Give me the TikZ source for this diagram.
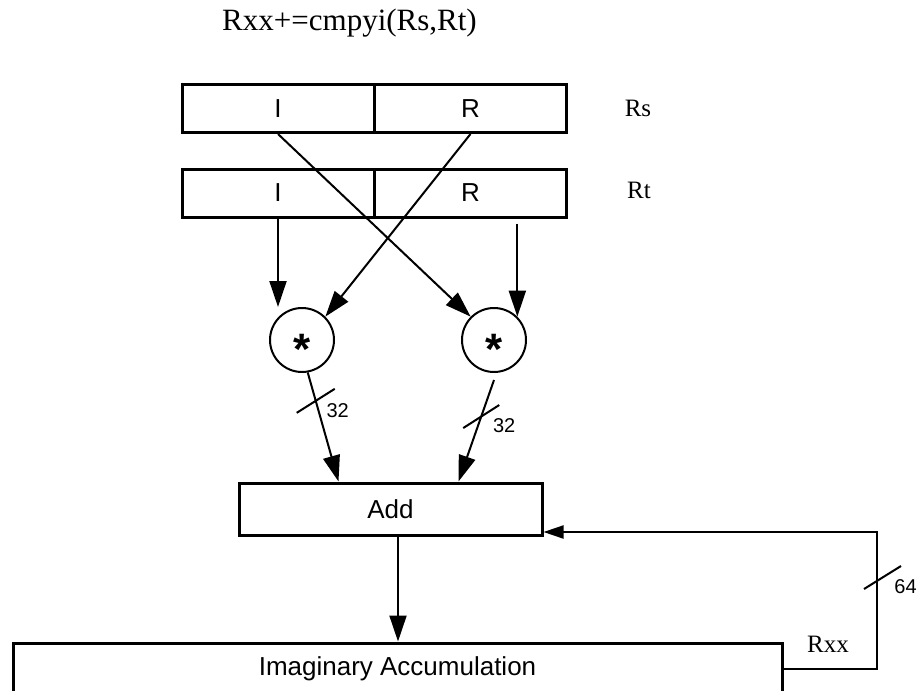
\documentclass[tikz,border=0pt]{standalone}
\usepackage{fontspec}
\setmainfont{Liberation Serif}
\setsansfont{Liberation Sans}
\usetikzlibrary{arrows.meta,calc}
\tikzset{
  reg/.style={draw,line width=1.5pt,minimum width=96pt,minimum height=24pt,
    inner sep=0pt,font=\sffamily\fontsize{13}{13}\selectfont},
  unit/.style={draw,line width=1.5pt,minimum height=26pt,inner sep=0pt,
    font=\sffamily\fontsize{13}{13}\selectfont},
  mult/.style={draw,circle,line width=1pt,minimum size=32pt,inner sep=0pt},
  mulsign/.style={inner sep=0pt,yshift=-4.7pt,font=\sffamily\bfseries\fontsize{22}{22}\selectfont},
  reglabel/.style={font=\fontsize{12.5}{12.5}\selectfont},
  wire/.style={line width=1pt,-{Triangle[length=13pt,width=8.5pt]}},
  backwire/.style={line width=1pt,-{Triangle[length=10pt,width=6.5pt]}},
  busmark/.style={line width=1pt},
  buswidth/.style={font=\sffamily\fontsize{10}{10}\selectfont}
}
\begin{document}
\begin{tikzpicture}[x=0.5pt,y=-0.5pt]
  \useasboundingbox (0,0) rectangle (919,690);
  \clip (0,0) rectangle (919,690);
  \node[font=\fontsize{15.5}{15.5}\selectfont,anchor=base] (title) at (349.5,31) {Rxx+=cmpyi(Rs,Rt)};

  % Rs
  \node[reg] (rsI) at (278,108.5) {I};
  \node[reg] (rsR) at (470.5,108.5) {R};
  \node[reglabel] (rsLbl) at (638,108) {Rs};
  % Rt
  \node[reg] (rtI) at (278,193) {I};
  \node[reg] (rtR) at (470.5,193) {R};
  \node[reglabel] (rtLbl) at (639,190) {Rt};

  % multipliers
  \node[mult] (mulL) at (302,340) {};
  \node[mult] (mulR) at (494,340) {};
  \node[mulsign] (sgnL) at (mulL) {*};
  \node[mulsign] (sgnR) at (mulR) {*};

  \draw[wire] (rtI.south) -- (rtI.south |- mulL.north);
  \draw[wire] ($(rtR.south -| mulR.45)+(0,5)$) -- (mulR.45);
  \draw[wire] (rsR.south) -- (mulL.45);
  \draw[wire] (rsI.south) -- (mulR.135);

  % add and accumulate
  \node[unit,minimum width=151.5pt] (add) at (390.5,509) {Add};
  \node[unit,minimum width=384.5pt] (acc) at (397.5,669) {Imaginary Accumulation};

  \draw[wire] (mulL.-80) -- coordinate[pos=0.26] (sL) ($(add.north)+(-52,0)$);
  \draw[wire] ($(mulR.south)+(0,7)$) -- coordinate[pos=0.36] (sR) ($(add.north)+(68,0)$);
  \draw[busmark] ($(sL)+(-19,12)$) -- ($(sL)+(19,-12)$);
  \draw[busmark] ($(sR)+(-18,11.5)$) -- ($(sR)+(18,-11.5)$);
  \node[buswidth] (wL) at ($(sL)+(22,10)$) {32};
  \node[buswidth] (wR) at ($(sR)+(23,9)$) {32};

  \draw[wire] (add.south -| 398,0) -- (acc.north -| 398,0);

  % feedback
  \coordinate (fbTop) at (877,532);
  \draw[backwire] (acc.east) -| (fbTop) -- (fbTop -| add.east);
  \coordinate (s64) at (877,577);
  \draw[busmark] ($(s64)+(-13,12)$) -- ($(s64)+(24,-11)$);
  \node[buswidth] (w64) at ($(s64)+(28.5,9.5)$) {64};
  \node[reglabel] (rxxLbl) at (828,644) {Rxx};
\end{tikzpicture}
\end{document}
